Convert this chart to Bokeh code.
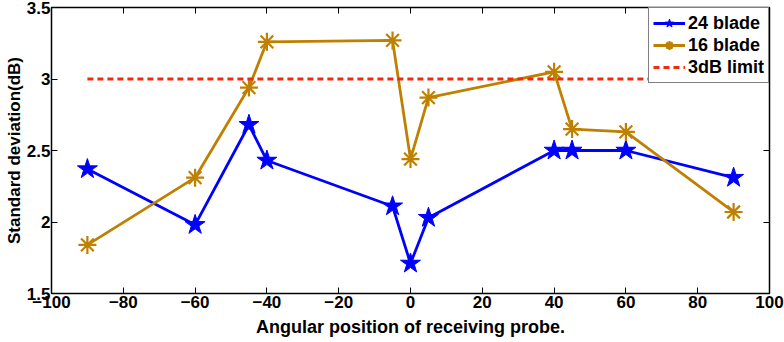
from bokeh.plotting import figure
from bokeh.models import LinearAxis, FixedTicker, Range1d, Legend, LegendItem, ColumnDataSource
from bokeh.embed import file_html
from bokeh.resources import INLINE

angles = [-90, -60, -45, -40, -5, 0, 5, 40, 45, 60, 90]
blade24 = [2.37, 1.98, 2.68, 2.43, 2.11, 1.71, 2.03, 2.50, 2.50, 2.50, 2.31]
blade16 = [1.84, 2.31, 2.94, 3.26, 3.27, 2.44, 2.87, 3.05, 2.65, 2.63, 2.07]
limit_x = [-90, 90]
limit_y = [3.0, 3.0]
x_ticks = [-100, -80, -60, -40, -20, 0, 20, 40, 60, 80, 100]
y_ticks = [1.5, 2, 2.5, 3, 3.5]

FONT = "Liberation Sans"

p = figure(width=784, height=342, output_backend="svg", toolbar_location=None,
           x_range=Range1d(-100, 100), y_range=Range1d(1.5, 3.5),
           min_border_left=51, min_border_right=15, min_border_top=7, min_border_bottom=49)
p.xgrid.visible = False
p.ygrid.visible = False
p.outline_line_color = "black"
p.outline_line_width = 1.5
p.background_fill_color = "white"
p.border_fill_color = "white"

src = ColumnDataSource(dict(x=angles, b24=blade24, b16=blade16))

l24 = p.line("x", "b24", source=src, line_color="#0000FF", line_width=2.8)
m24 = p.scatter("x", "b24", source=src, marker="star", size=21, fill_color="#0000FF",
                line_color="#0000FF", line_width=1)
l16 = p.line("x", "b16", source=src, line_color="#BF8000", line_width=2.8)
m16 = p.scatter("x", "b16", source=src, marker="asterisk", size=18, line_color="#BF8000",
                line_width=2.2)
llim = p.line(limit_x, limit_y, line_color="#F02C10", line_width=2.8, line_dash="6 4")

xa = p.xaxis[0]
ya = p.yaxis[0]
xa.ticker = FixedTicker(ticks=x_ticks)
ya.ticker = FixedTicker(ticks=y_ticks)
ya.major_label_overrides = {2: "2", 3: "3"}
for ax in (xa, ya):
    ax.major_tick_in = 6
    ax.major_tick_out = 0
    ax.minor_tick_line_color = None
    ax.axis_line_color = None
    ax.major_tick_line_color = "black"
    ax.major_label_text_font = FONT
    ax.major_label_text_font_style = "bold"
    ax.major_label_text_font_size = "17px"
    ax.major_label_text_color = "black"
    ax.axis_label_text_font = FONT
    ax.axis_label_text_font_style = "bold"
    ax.axis_label_text_font_size = "18px"
    ax.axis_label_text_color = "black"
xa.axis_label = "Angular position of receiving probe."
ya.axis_label = "Standard deviation(dB)"
ya.axis_label_text_font_size = "17px"
xa.major_label_standoff = 2
ya.major_label_standoff = 1
xa.axis_label_standoff = 6
ya.axis_label_standoff = 0

top = LinearAxis(ticker=FixedTicker(ticks=x_ticks), major_label_text_color=None,
                 major_tick_in=6, major_tick_out=0, minor_tick_line_color=None,
                 axis_line_color=None)
right = LinearAxis(ticker=FixedTicker(ticks=y_ticks), major_label_text_color=None,
                   major_tick_in=6, major_tick_out=0, minor_tick_line_color=None,
                   axis_line_color=None)
p.add_layout(top, "above")
p.add_layout(right, "right")

legend = Legend(items=[
    LegendItem(label="24 blade", renderers=[l24, m24]),
    LegendItem(label="16 blade", renderers=[l16, m16]),
    LegendItem(label="3dB limit", renderers=[llim]),
], location="top_right")
legend.margin = 0
legend.padding = 4
legend.spacing = 0
legend.glyph_width = 32
legend.glyph_height = 22
legend.label_standoff = 3
legend.label_text_font = FONT
legend.label_text_font_style = "bold"
legend.label_text_font_size = "18px"
legend.label_text_color = "black"
legend.border_line_color = "black"
legend.border_line_width = 1
legend.background_fill_alpha = 1
p.add_layout(legend)

open("out.html", "w").write(file_html(p, INLINE))
